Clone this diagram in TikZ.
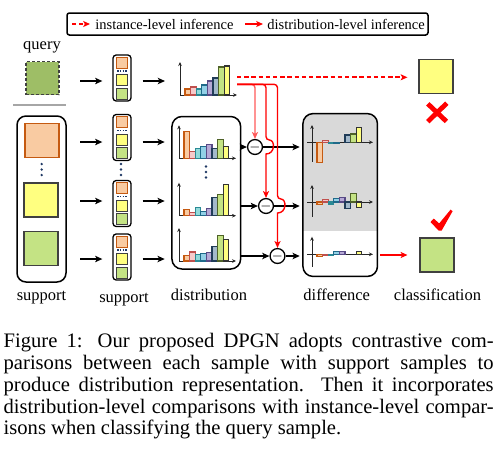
\documentclass[tikz,border=0pt]{standalone}
\usepackage{fontspec}
\setmainfont{Liberation Serif}
\usetikzlibrary{positioning,arrows.meta,calc}

\definecolor{orF}{HTML}{F9CBA2}
\definecolor{orL}{HTML}{C55A11}
\definecolor{piF}{HTML}{F7CACA}
\definecolor{piL}{HTML}{C0504D}
\definecolor{teF}{HTML}{93DADA}
\definecolor{teL}{HTML}{2B8A95}
\definecolor{blF}{HTML}{92D0E6}
\definecolor{blL}{HTML}{1F6A8A}
\definecolor{puF}{HTML}{B6A9D6}
\definecolor{puL}{HTML}{584A86}
\definecolor{bgF}{HTML}{A3B9CB}
\definecolor{bgL}{HTML}{203C58}
\definecolor{grF}{HTML}{C4E384}
\definecolor{grL}{HTML}{4F6228}
\definecolor{yeF}{HTML}{FFFF80}
\definecolor{yeL}{HTML}{333333}
\definecolor{qgF}{HTML}{9EBE66}
\definecolor{navy}{HTML}{1F3864}
\definecolor{diffbg}{HTML}{D9D9D9}
\definecolor{sepgray}{HTML}{A6A6A6}
\definecolor{rd}{HTML}{FF0000}

\tikzset{
  arr/.style={-{Stealth[length=3.6pt,width=3.2pt,inset=0.9pt]}, line width=0.8pt},
  redarr/.style={-{Stealth[length=3.4pt,width=3pt,inset=0.8pt]}, line width=0.7pt, color=rd},
  reddash/.style={redarr, line width=0.9pt, dash pattern=on 2.2pt off 1.4pt},
  axis/.style={-{Stealth[length=2pt,width=1.8pt]}, line width=0.45pt, draw=black!85},
  rbox/.style={draw, line width=0.75pt, rounded corners=4.5pt, inner sep=0pt},
  bigsq/.style={draw=black!75, line width=0.55pt, minimum size=17pt, inner sep=0pt},
  smallsq/.style={draw=black!75, line width=0.5pt, minimum size=5.5pt, inner sep=0pt},
  stack/.style={draw, line width=0.65pt, rounded corners=1.6pt, minimum width=9pt, minimum height=23pt, inner sep=0pt},
  minus/.style={draw, circle, fill=white, line width=0.65pt, minimum size=7pt, inner sep=0pt, font=\fontsize{6}{6}\selectfont},
  lbl/.style={anchor=base, inner sep=0pt, font=\fontsize{8.25}{9}\selectfont},
  legtxt/.style={inner sep=0pt, font=\fontsize{7.25}{8}\selectfont},
  bar1/.style={draw=orL, fill=orF, line width=0.55pt},
  bar2/.style={draw=piL, fill=piF, line width=0.55pt},
  bar3/.style={draw=teL, fill=teF, line width=0.55pt},
  bar4/.style={draw=blL, fill=blF, line width=0.55pt},
  bar5/.style={draw=puL, fill=puF, line width=0.55pt},
  bar6/.style={draw=bgL, fill=bgF, line width=0.55pt},
  bar7/.style={draw=grL, fill=grF, line width=0.55pt},
  bar8/.style={draw=yeL, fill=yeF, line width=0.55pt}
}

\begin{document}
\begin{tikzpicture}[x=0.5pt, y=-0.5pt]
\useasboundingbox (0,0) rectangle (502,457);

% legend
\node[rbox, rounded corners=1.2pt, minimum width=180.5pt, minimum height=11pt] (leg) at (247.5,24) {};
\coordinate (lg1) at (72,24);
\node[legtxt, right=11.5pt of lg1] (lt1) {instance-level inference};
\draw[reddash, line width=0.7pt, dash pattern=on 2pt off 1.5pt, shorten >=2.5pt] (lg1) -- (lt1);
\coordinate (lg2) at (245,24);
\node[legtxt, right=11pt of lg2] (lt2) {distribution-level inference};
\draw[redarr, shorten >=2pt] (lg2) -- (lt2);

% query and support samples
\node[lbl] (lq) at (42,49.3) {query};
\node[bigsq, fill=qgF, dash pattern=on 1.5pt off 1pt, minimum size=16.5pt] (qsq) at (42.5,78) {};
\draw[sepgray, line width=0.8pt] (13,105) -- (66,105);
\node[rbox, minimum width=24.5pt, minimum height=83pt] (supp) at (41.5,199) {};
\node[bigsq, fill=orF, draw=orL] (sqo) at (42,140.5) {};
\node[bigsq, fill=yeF] (sqy) at (41,200) {};
\node[bigsq, fill=grF] (sqg) at (41,248.5) {};
\node[lbl] (ls1) at (41.5,300.5) {support};

% feature stacks
\foreach \k/\y in {q/78,1/137.5,2/203.5,3/257}{
  \node[stack] (st\k) at (122,\y) {};
  \node[smallsq, fill=orF, draw=orL] (st\k-a) at (122,\y-15.5) {};
  \draw[navy, line width=0.9pt, dash pattern=on 0.8pt off 0.6pt] (117,\y-7) -- (127,\y-7);
  \node[smallsq, fill=yeF] (st\k-b) at (122,\y+2) {};
  \node[smallsq, fill=grF] (st\k-c) at (122,\y+15.5) {};
}
\node[lbl] (ls2) at (124,302) {support};

% vertical dots
\foreach \x/\y in {41.7/164,121/164,206/166.5,340/168}
  \foreach \dd in {0,5.5,11}
    \fill[navy] (\x,\y+\dd) circle (0.65pt);

% distribution and difference boxes
\node[rbox, rounded corners=5pt, minimum width=34.35pt, minimum height=76.25pt] (dist) at (206.3,192.75) {};
\node[lbl] (ldist) at (209,300.5) {distribution};
\node[inner sep=0pt, minimum width=36.85pt, minimum height=81pt] (diff) at (340.2,195) {};
\begin{scope}
  \clip[rounded corners=5pt] (diff.south west) rectangle (diff.north east);
  \fill[diffbg] (diff.north west) rectangle (diff.east |- 0,231);
\end{scope}
\draw[line width=0.75pt, rounded corners=5pt] (diff.south west) rectangle (diff.north east);
\node[lbl] (ldiff) at (336.7,300.5) {difference};

% histograms
\coordinate (hq) at (180,95);
\coordinate (h1) at (179,158.3);
\coordinate (h2) at (179,215.7);
\coordinate (h3) at (179,261);
\foreach \hh/\hs in {hq/{6,8,6,10,14,17,28,29}, h1/{26.7,6.7,10,12,14,10,19,11.7},
    h2/{6.3,3.3,8.3,4,7,18.3,21.3,31.3}, h3/{5.7,9,6.3,7.7,8.3,14.3,25.3,21.7}}{
  \draw[axis] (\hh) -- ++(0,-33);
  \draw[axis] (\hh) -- ++(57,0);
  \foreach \h [count=\i] in \hs
    \draw[bar\i, shift={(\hh)}] (5.6*\i-0.6,0) rectangle ++(5.6,{-(\h)});
}
\coordinate (d1) at (312,142.3);
\coordinate (d2) at (312,202);
\coordinate (d3) at (312,254.3);
\draw[axis] ($(d1)+(0,19.4)$) -- ++(0,-36.7);
\draw[axis] ($(d2)+(0,14.7)$) -- ++(0,-31.7);
\draw[axis] ($(d3)+(0,12.4)$) -- ++(0,-30);
\foreach \dd in {d1,d2,d3}
  \draw[axis] ($(\dd)+(-5,0)$) -- ++(66,0);
\foreach \i/\h in {1/-20,2/2,3/-1.3,4/-1.3,6/7.3,7/8.3,8/15}
  \draw[bar\i, shift={(d1)}] (5.6*\i-0.6,0) rectangle ++(5.6,{-(\h)});
\foreach \i/\h in {1/-2.3,2/2.7,3/-2,4/3.7,5/4.7,6/-6.3,7/8.7,8/-5.3}
  \draw[bar\i, shift={(d2)}] (5.6*\i-0.6,0) rectangle ++(5.6,{-(\h)});
\foreach \i/\h in {1/-2.3,2/-1,3/-1,4/3,5/3,8/3}
  \draw[bar\i, shift={(d3)}] (5.6*\i-0.6,0) rectangle ++(5.6,{-(\h)});

% comparisons
\node[minus] (m1) at (255,147) {$-$};
\node[minus] (m2) at (266,206) {$-$};
\node[minus] (m3) at (277.5,256) {$-$};

% arrows
\foreach \k/\y in {q/81,1/142,2/201,3/259}{
  \coordinate (a\k) at (80,\y);
  \draw[arr, shorten >=5pt] (a\k) -- (a\k -| st\k.west);
}
\draw[arr, shorten <=5.5pt, shorten >=7.5pt] (aq -| stq.east) -- (aq -| hq);
\foreach \k in {1,2,3}
  \draw[arr, shorten <=5.5pt, shorten >=3.25pt] (a\k -| st\k.east) -- (a\k -| dist.west);
\foreach \k in {1,2,3}{
  \draw[arr] (dist.east |- m\k) -- (m\k);
  \draw[arr, shorten >=1.6pt] (m\k) -- (m\k -| diff.west);
}

% instance and distribution inference
\coordinate (rs) at (237,84.3);
\coordinate (qs) at (237,77.3);
\draw[redarr, color=rd!65, rounded corners=1.7pt] (rs) -| (m1);
\draw[redarr, rounded corners=1.7pt] (rs) -| ($(m2 |- m1)+(0,-7)$) [sharp corners]
  .. controls +(9.3,0) and +(9.3,0) .. ($(m2 |- m1)+(0,7)$) -- (m2);
\draw[redarr, rounded corners=1.7pt] (rs) -| ($(m3 |- m2)+(0,-7)$) [sharp corners]
  .. controls +(9.3,0) and +(9.3,0) .. ($(m3 |- m2)+(0,7)$) -- (m3);

% classification
\node[bigsq, fill=yeF] (resy) at (436,76.5) {};
\node[bigsq, fill=grF] (resg) at (437,255) {};
\draw[reddash, shorten >=5.5pt] (qs) -- (qs -| resy.west);
\draw[redarr, shorten <=1.5pt, shorten >=6pt] (diff.east |- resg) -- (resg);
\draw[rd, line width=2.4pt] (427.8,103.8) -- (446.4,121.4) (446.8,103.2) -- (427.8,121.6);
\fill[rd] (430.5,222) -- (433.8,218.6) -- (439.2,223.4) -- (450.6,209.6) -- (452.6,211.2)
  -- (441.6,230.6) -- (438.6,230.6) -- cycle;
\node[lbl] (lcls) at (437.5,300) {classification};

% caption
\node[anchor=north west, inner sep=0pt, text width=245pt, align=justify,
  font=\fontsize{10.3}{10.85}\selectfont] (cap) at (3.3,333.2)
  {\tolerance=10000 Figure 1: Our proposed DPGN adopts contrastive com-\linebreak
  parisons between each sample with support samples to\linebreak
  produce distribution representation.  Then it incorporates\linebreak
  distribution-level comparisons with instance-level compar-\linebreak
  isons when classifying the query sample.};
\end{tikzpicture}
\end{document}
